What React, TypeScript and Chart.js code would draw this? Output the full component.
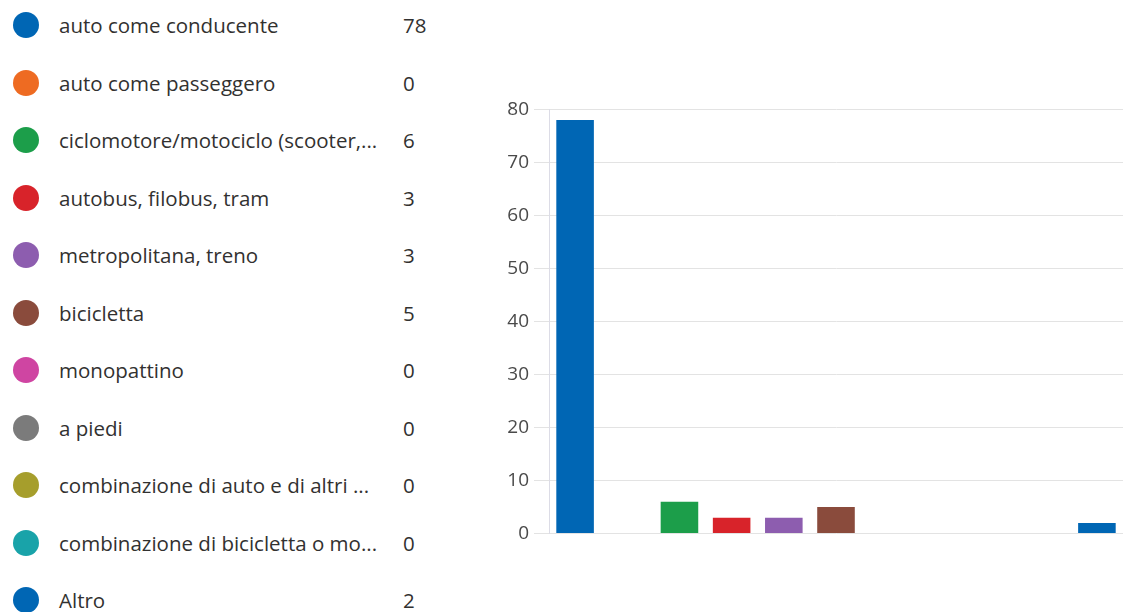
import React, { useEffect, useRef } from "react";
import { Chart, registerables } from "chart.js";

Chart.register(...registerables);

const categories = [
  "auto come conducente",
  "auto come passeggero",
  "ciclomotore/motociclo (scooter,...",
  "autobus, filobus, tram",
  "metropolitana, treno",
  "bicicletta",
  "monopattino",
  "a piedi",
  "combinazione di auto e di altri ...",
  "combinazione di bicicletta o mo...",
  "Altro",
];
const counts = [78, 0, 6, 3, 3, 5, 0, 0, 0, 0, 2];
const colors = [
  "#0066B4",
  "#EE6B22",
  "#1C9E4A",
  "#D8232A",
  "#8D5DAF",
  "#8A4B3C",
  "#CF45A2",
  "#7B7B7B",
  "#A69E2C",
  "#19A3A9",
  "#0066B4",
];
const yTicks = [0, 10, 20, 30, 40, 50, 60, 70, 80];

const FONT = "'Open Sans', 'Noto Sans', sans-serif";

export default function App() {
  const ref = useRef<HTMLCanvasElement | null>(null);

  useEffect(() => {
    if (!ref.current) return;
    const chart = new Chart(ref.current, {
      type: "bar",
      data: {
        labels: categories,
        datasets: [
          {
            data: counts,
            backgroundColor: colors,
            borderWidth: 0,
            barPercentage: 0.9,
            categoryPercentage: 0.8,
          },
        ],
      },
      options: {
        responsive: false,
        animation: false,
        maintainAspectRatio: false,
        layout: { padding: { top: 10, bottom: 12, right: 0, left: 0 } },
        plugins: { legend: { display: false }, tooltip: { enabled: false } },
        scales: {
          x: { display: false },
          y: {
            min: 0,
            max: 80,
            afterBuildTicks: (s: any) => {
              s.ticks = yTicks.map((v) => ({ value: v }));
            },
            afterFit: (s: any) => {
              s.width = 59;
            },
            ticks: {
              color: "#4a4a4a",
              padding: 5,
              font: { family: FONT, size: 19 },
            },
            grid: { color: "#e3e3e3", tickLength: 15, lineWidth: 1 },
            border: { color: "#dcdce6", width: 1 },
          },
        },
      },
    });
    return () => chart.destroy();
  }, []);

  return (
    <div
      style={{
        position: "fixed",
        left: 0,
        top: 0,
        width: 1123,
        height: 612,
        background: "#fff",
        overflow: "hidden",
        fontFamily: FONT,
      }}
    >
      {categories.map((c, i) => (
        <div
          key={i}
          style={{
            position: "absolute",
            left: 0,
            top: 25 + i * 57.5 - 15,
            height: 30,
            width: 460,
          }}
        >
          <div
            style={{
              position: "absolute",
              left: 13,
              top: 2,
              width: 26,
              height: 26,
              borderRadius: 13,
              background: colors[i],
            }}
          />
          <div
            style={{
              position: "absolute",
              left: 59,
              top: 0,
              lineHeight: "30px",
              fontSize: 20.5,
              color: "#323130",
              whiteSpace: "nowrap",
            }}
          >
            {c}
          </div>
          <div
            style={{
              position: "absolute",
              left: 403,
              top: 0,
              lineHeight: "30px",
              fontSize: 20.5,
              color: "#323130",
            }}
          >
            {counts[i]}
          </div>
        </div>
      ))}
      <canvas
        ref={ref}
        width={633}
        height={457}
        style={{ position: "absolute", left: 490, top: 93, width: 633, height: 457 }}
      />
    </div>
  );
}
